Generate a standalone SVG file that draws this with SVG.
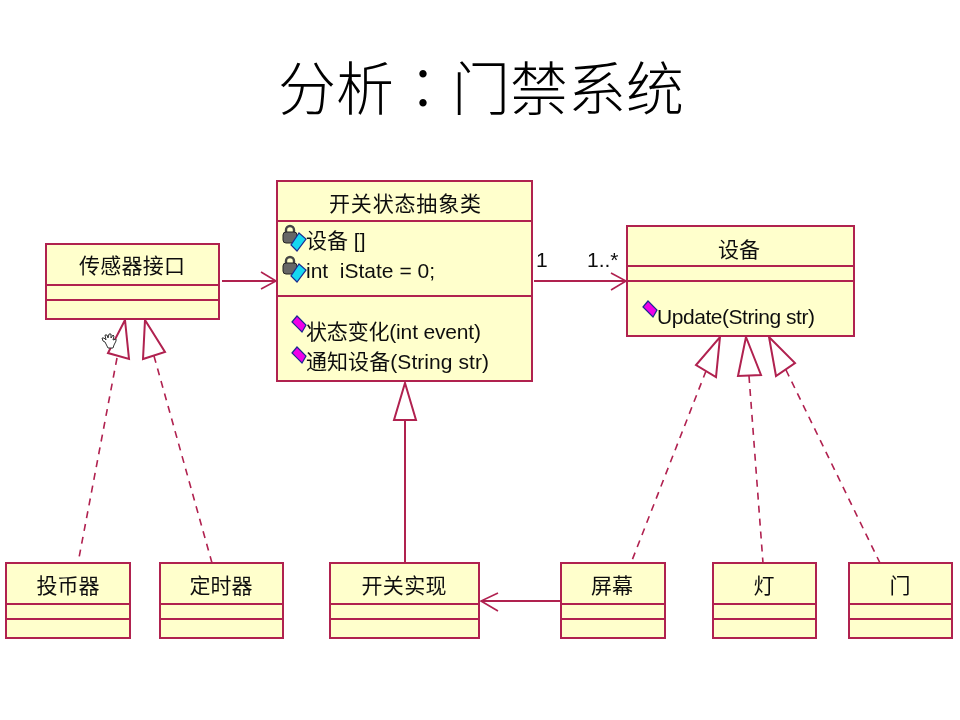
<svg xmlns="http://www.w3.org/2000/svg" width="960" height="720" viewBox="0 0 960 720">
<style>
.box{fill:#ffffcc;stroke:#b0204f;stroke-width:2}
.sep{stroke:#b0204f;stroke-width:2;fill:none}
.line{stroke:#b0204f;stroke-width:2;fill:none}
.dash{stroke:#b0204f;stroke-width:1.6;fill:none;stroke-dasharray:7 6}
.head{stroke:#b0204f;stroke-width:2;fill:#fff}
.open{stroke:#b0204f;stroke-width:1.6;fill:none}
text{font-family:"Liberation Sans","Noto Sans CJK SC",sans-serif;fill:#111}
.t{font-size:21px;text-anchor:middle;font-family:"Noto Sans CJK SC",sans-serif}
.m{font-size:21px;font-family:"Liberation Sans","Noto Sans CJK SC",sans-serif}
.title{font-size:58px;fill:#000;font-family:"Noto Sans CJK SC",sans-serif;font-weight:300}
.lock{fill:#666;stroke:#222;stroke-width:1}
.shackle{fill:none;stroke:#444;stroke-width:2.4}
.cy{fill:#19d8f0;stroke:#1a2a90;stroke-width:1.2}
.mg{fill:#f000e8;stroke:#1a2a90;stroke-width:1.2}
</style>
<defs>
<filter id="soft" x="-5%" y="-5%" width="110%" height="110%"><feGaussianBlur stdDeviation="0.45"/></filter>
<g id="private">
<path class="shackle" d="M-4 1v-3a4 4 0 0 1 8 0v3"/>
<rect class="lock" x="-7" y="0" width="14" height="11" rx="3"/>
<path class="cy" d="M9 1l7 6-9 12-6-6z"/>
</g>
<path id="public" class="mg" d="M0 6L5 0L14 9L10 16Z"/>
</defs>
<text class="title" y="110"><tspan x="278">分析</tspan><tspan x="394" font-family="Noto Sans CJK TC">：</tspan><tspan x="452">门禁系统</tspan></text>
<g filter="url(#soft)">
<g id="connectors">
<path class="line" d="M222 281H275"/><path class="open" d="M261 272L276 281L261 289"/>
<path class="line" d="M534 281H625"/><path class="open" d="M611 273L626 281L611 290"/>
<path class="line" d="M561 601H481"/><path class="open" d="M498 593L481 601L498 611"/>
<path class="line" d="M405 420V563"/><path class="head" d="M405 383L416 420H394Z"/>
<path class="dash" d="M117 358L78 563"/><path class="head" d="M125 320L129 359L108 353Z"/>
<path class="dash" d="M154 356L212 563"/><path class="head" d="M145 320L165 352L143 359Z"/>
<path class="dash" d="M706 371L631 563"/><path class="head" d="M720 337L716 377L696 365Z"/>
<path class="dash" d="M749 376L763 563"/><path class="head" d="M746 337L761 375L738 376Z"/>
<path class="dash" d="M786 370L880 563"/><path class="head" d="M769 337L795 363L776 376Z"/>
</g>
<g id="n-sensor">
<rect class="box" x="46" y="244" width="173" height="75"/>
<path class="sep" d="M46 285H219M46 300H219"/>
<text class="t" x="132" y="273" textLength="106">传感器接口</text>
</g>
<g id="n-abstract">
<rect class="box" x="277" y="181" width="255" height="200"/>
<path class="sep" d="M277 221H532M277 296H532"/>
<text class="t" x="405" y="211" textLength="152">开关状态抽象类</text>
<use href="#private" x="290" y="232"/>
<text class="m" x="306" y="248">设备 []</text>
<use href="#private" x="290" y="263"/>
<text class="m" x="306" y="278" xml:space="preserve">int  iState = 0;</text>
<use href="#public" x="292" y="316"/>
<text class="m" x="306" y="339" textLength="175">状态变化(int event)</text>
<use href="#public" x="292" y="347"/>
<text class="m" x="306" y="369" textLength="183">通知设备(String str)</text>
</g>
<g id="n-device">
<rect class="box" x="627" y="226" width="227" height="110"/>
<path class="sep" d="M627 266H854M627 281H854"/>
<text class="t" x="739" y="257">设备</text>
<use href="#public" x="643" y="301"/>
<text class="m" x="657" y="324" textLength="158">Update(String str)</text>
</g>
<g id="n-coin">
<rect class="box" x="6" y="563" width="124" height="75"/>
<path class="sep" d="M6 604H130M6 619H130"/>
<text class="t" x="68" y="593">投币器</text>
</g>
<g id="n-timer">
<rect class="box" x="160" y="563" width="123" height="75"/>
<path class="sep" d="M160 604H283M160 619H283"/>
<text class="t" x="221" y="593">定时器</text>
</g>
<g id="n-impl">
<rect class="box" x="330" y="563" width="149" height="75"/>
<path class="sep" d="M330 604H479M330 619H479"/>
<text class="t" x="404" y="593" textLength="85">开关实现</text>
</g>
<g id="n-screen">
<rect class="box" x="561" y="563" width="104" height="75"/>
<path class="sep" d="M561 604H665M561 619H665"/>
<text class="t" x="612" y="593">屏幕</text>
</g>
<g id="n-lamp">
<rect class="box" x="713" y="563" width="103" height="75"/>
<path class="sep" d="M713 604H816M713 619H816"/>
<text class="t" x="764" y="593">灯</text>
</g>
<g id="n-door">
<rect class="box" x="849" y="563" width="103" height="75"/>
<path class="sep" d="M849 604H952M849 619H952"/>
<text class="t" x="900" y="593">门</text>
</g>
<text class="m" x="536" y="267">1</text>
<text class="m" x="587" y="267">1..*</text>
</g>
<path d="M108 348l-3-6-2-1-1-3 2 0 2 2-1-5 2 0 1 3 1-4 2 0 0 4 2-3 1 1-1 4 3-1 0 2-2 4-1 3z" fill="#fff" stroke="#333" stroke-width="1"/>
</svg>
